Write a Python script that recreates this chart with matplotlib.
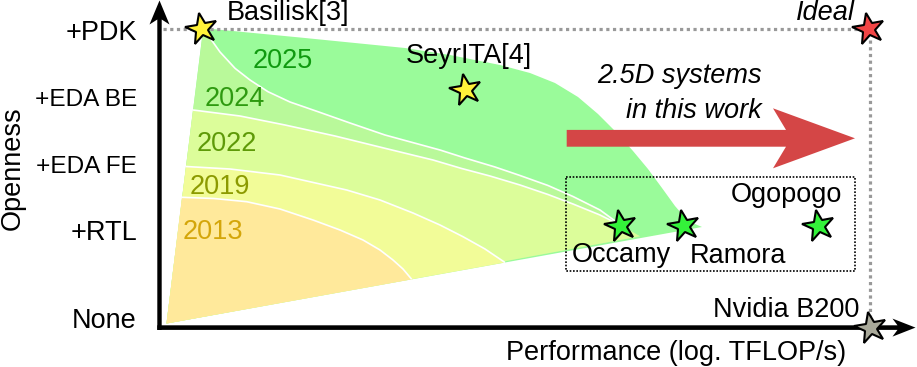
import matplotlib
matplotlib.use("Agg")
import matplotlib.pyplot as plt
from matplotlib.patches import Polygon, Rectangle
from matplotlib.markers import MarkerStyle
from matplotlib.transforms import Affine2D

plt.rcParams['font.family'] = ['Liberation Sans', 'DejaVu Sans']

# ---------------- data (chart pixel space: x right, y down) ----------------
openness_labels = ["+PDK", "+EDA BE", "+EDA FE", "+RTL", "None"]
openness_baselines = [40, 106, 173, 240, 328]
openness_size = [1.0, 0.9, 0.9, 1.0, 1.0]

apex = (166.5, 323.5)          # origin of the fan
bottom_right = (702, 227)      # end of straight lower edge of fan
tip = (622, 226)               # where 2022/2024 lines converge (Occamy)
tip_bottom = (640, 236.3)

years = ["2013", "2019", "2022", "2024", "2025"]
year_fill = ["#FFE99B", "#F2FC98", "#DCFD9A", "#B9F99A", "#9AFB9A"]
year_text = ["#D4A60A", "#8C9A00", "#5E9A08", "#2E9A10", "#109A10"]
year_label_pos = [(183, 239), (189.5, 194), (197, 151), (205, 105.5), (253, 67.5)]

curve_2013 = [(182, 197.3), (214, 198.5), (246.7, 201.7), (280, 209), (313, 220),
              (340, 230), (363, 240), (380, 250), (393, 260), (403, 269), (411.7, 279.3)]
curve_2019 = [(186, 166.5), (230, 169), (280, 175), (346.7, 190), (380, 200),
              (413, 213), (440, 225), (463, 236.7), (485, 249), (505, 262.5)]
curve_2022 = [(193, 110), (240, 116), (285, 125), (335, 136), (385, 148.3),
              (433, 160), (461.7, 168.5), (490, 176), (520, 185), (548, 194.5),
              (573, 204), (600, 215), tip]
curve_2024 = [(203, 31), (206.7, 33.3), (220, 52), (235, 68.3), (250, 80), (268, 91.7),
              (290, 102), (318, 111.7), (350, 123), (385, 135), (440, 150),
              (465, 158), (495, 167), (520, 175.5), (548, 185.5), (573, 196.5),
              (600, 210), tip]
curve_2025 = [(203, 30), (212, 29), (300, 37.5), (405, 48), (450, 55), (500, 65),
              (530, 73), (555, 83), (578, 97), (598, 114), (617, 133), (633, 151),
              (648, 169), (662, 188), (675, 206), (688, 221), bottom_right]

star_names = ["Basilisk[3]", "SeyrITA[4]", "Ideal", "Occamy", "Ramora", "Ogopogo", "Nvidia B200"]
star_x = [202, 466, 869, 621, 684, 819, 871]
star_y = [29, 90, 29, 226, 226, 226, 328]
star_color = ["#FFF23A", "#FFF23A", "#F24646", "#34F23A", "#34F23A", "#34F23A", "#A9A99A"]
label_pos = [(227, 20, 'left'), (406, 63, 'left'), (855, 20, 'right'),
             (572, 262, 'left'), (690, 263, 'left'), (842, 202, 'right'), (859, 317, 'right')]
label_italic = [False, False, True, False, False, False, False]

# ---------------- figure ----------------
fig = plt.figure(figsize=(9.17, 3.67), dpi=100)
ax = fig.add_axes([0, 0, 1, 1])
ax.set_xlim(0, 917)
ax.set_ylim(367, 0)
ax.axis('off')

FS = 19.5

# regions (drawn from outermost to innermost)
regions = [
    [apex] + curve_2025,
    [apex] + curve_2024 + [tip_bottom],
    [apex] + curve_2022 + [tip_bottom],
    [apex] + curve_2019,
    [apex] + curve_2013,
]
fills = year_fill[::-1]
for poly, col in zip(regions, fills):
    ax.add_patch(Polygon(poly, closed=True, facecolor=col, edgecolor='none', zorder=1))
for c in [curve_2024, curve_2022, curve_2019, curve_2013]:
    xs, ys = zip(*c)
    ax.plot(xs, ys, color='white', lw=1.2, zorder=2, solid_capstyle='butt')

for yr, col, (tx, ty) in zip(years, year_text, year_label_pos):
    ax.text(tx, ty, yr, color=col, fontsize=FS, ha='left', va='baseline', zorder=3)

# gray dotted guide lines
ax.plot([163, 862], [29, 29], color='#999999', lw=2.3, ls=(0, (1, 1.1)), zorder=2)
ax.plot([870, 870], [40, 318], color='#999999', lw=2.3, ls=(0, (1, 1.1)), zorder=2)

# black dotted box
ax.add_patch(Rectangle((566, 177), 855 - 566, 271 - 177, fill=False, edgecolor='black',
                       lw=1.2, ls=(0, (1, 1)), zorder=4))


def notched_arrow(x0, y0, x1, y1, bw, hw, hl, notch, **kw):
    import numpy as np
    d = np.array([x1 - x0, y1 - y0], float)
    L = np.hypot(*d)
    u = d / L
    n = np.array([-u[1], u[0]])
    p0 = np.array([x0, y0], float)

    def P(s, t):
        return tuple(p0 + u * s + n * t)
    pts = [P(0, -bw), P(L - hl + notch, -bw), P(L - hl, -hw), P(L, 0),
           P(L - hl, hw), P(L - hl + notch, bw), P(0, bw)]
    ax.add_patch(Polygon(pts, closed=True, **kw))


# red arrow "2.5D systems in this work"
notched_arrow(566.7, 138.3, 855, 138.3, bw=8.4, hw=30, hl=82, notch=13,
              facecolor='#D44646', edgecolor='none', zorder=5)
ax.text(762, 83, "2.5D systems", fontsize=FS, style='italic', ha='right', va='baseline', zorder=6)
ax.text(762, 118, "in this work", fontsize=FS, style='italic', ha='right', va='baseline', zorder=6)

# axes arrows
notched_arrow(159.5, 330, 159.5, 0.5, bw=2.2, hw=10, hl=24, notch=5,
              facecolor='black', edgecolor='none', zorder=7)
notched_arrow(157.3, 327.6, 915.5, 327.6, bw=2.3, hw=9, hl=23, notch=5,
              facecolor='black', edgecolor='none', zorder=7)

for lab, yb, sz in zip(openness_labels, openness_baselines, openness_size):
    ax.text(137, yb, lab, fontsize=FS * sz, ha='right', va='baseline')
ax.text(13, 168, "Openness", fontsize=FS, rotation=90, ha='center', va='center')
ax.text(676, 360, "Performance (log. TFLOP/s)", fontsize=FS, ha='center', va='baseline')

# stars
star_marker = MarkerStyle('*', transform=Affine2D().rotate_deg(12))
for x, y, c in zip(star_x, star_y, star_color):
    ax.plot([x], [y], marker=star_marker, markersize=24, markerfacecolor=c,
            markeredgecolor='black', markeredgewidth=1.5, ls='none', zorder=9)
for name, (lx, ly, ha), it in zip(star_names, label_pos, label_italic):
    ax.text(lx, ly, name, fontsize=FS, ha=ha, va='baseline',
            style='italic' if it else 'normal', zorder=10)

fig.savefig("out.png", dpi=100)
